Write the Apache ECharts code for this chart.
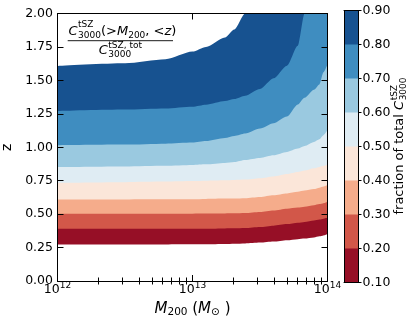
<!DOCTYPE html>
<html><head><meta charset="utf-8">
<script src="https://cdn.jsdelivr.net/npm/echarts@6/dist/echarts.min.js"></script>
<style>html,body{margin:0;padding:0;background:#fff}#c{width:416px;height:322px}</style>
</head><body><div id="c"></div>
<script>
// ---------------- data ----------------
const logMass = [12.0, 12.5, 12.8, 13.0, 13.1, 13.24, 13.31, 13.39, 13.5, 13.6, 13.7, 13.78, 13.83, 13.9, 13.94, 13.97, 14.0];
const contourLevels = [0.1, 0.2, 0.3, 0.4, 0.5, 0.6, 0.7, 0.8, 0.9];
const zAt010 = [0.272, 0.273, 0.273, 0.274, 0.275, 0.277, 0.279, 0.281, 0.287, 0.295, 0.305, 0.313, 0.318, 0.326, 0.334, 0.341, 0.349];
const zAt020 = [0.390, 0.390, 0.390, 0.390, 0.391, 0.393, 0.394, 0.396, 0.404, 0.414, 0.426, 0.436, 0.442, 0.452, 0.459, 0.466, 0.475];
const zAt030 = [0.502, 0.502, 0.502, 0.503, 0.504, 0.505, 0.506, 0.508, 0.516, 0.527, 0.541, 0.550, 0.556, 0.566, 0.575, 0.582, 0.590];
const zAt040 = [0.609, 0.610, 0.611, 0.612, 0.614, 0.616, 0.617, 0.619, 0.628, 0.641, 0.655, 0.667, 0.676, 0.687, 0.697, 0.706, 0.718];
const zAt050 = [0.734, 0.739, 0.743, 0.747, 0.750, 0.753, 0.755, 0.758, 0.768, 0.782, 0.800, 0.815, 0.826, 0.843, 0.853, 0.862, 0.870];
const zAt060 = [0.852, 0.857, 0.862, 0.868, 0.873, 0.883, 0.890, 0.905, 0.920, 0.940, 0.965, 0.990, 1.010, 1.040, 1.060, 1.090, 1.130];
const zAt070 = [1.015, 1.020, 1.027, 1.035, 1.047, 1.070, 1.085, 1.103, 1.140, 1.180, 1.230, 1.320, 1.370, 1.430, 1.470, 1.560, 1.620];
const zAt080 = [1.271, 1.282, 1.290, 1.303, 1.318, 1.345, 1.360, 1.385, 1.435, 1.515, 1.610, 1.758, 2.000, 2.000, 2.000, 2.000, 2.000];
const zAt090 = [1.608, 1.628, 1.658, 1.715, 1.750, 1.820, 1.880, 2.000, 2.000, 2.000, 2.000, 2.000, 2.000, 2.000, 2.000, 2.000, 2.000];
const contourZ = [zAt010, zAt020, zAt030, zAt040, zAt050, zAt060, zAt070, zAt080, zAt090];
const bandColors = ['#960f26', '#d25749', '#f5ac8b', '#fbe6d9', '#dfecf3', '#9ac9e0', '#3f8dc0', '#175290'];
const massRange = [1e12, 1e14];
const zRange = [0, 2];
const zTickStep = 0.25;
const minorMultipliers = [2, 3, 4, 5, 6, 7, 8, 9];
const minorDecades = [12, 13];

// ---------------- helpers ----------------
const FAM = '"DejaVu Sans", sans-serif';
const fnt = (size, italic) => (italic ? 'italic ' : '') + size + 'px ' + FAM;
const mctx = document.createElement('canvas').getContext('2d');
const tw = (t, f) => { mctx.font = f; return mctx.measureText(t).width; };
const black = '#000';
const axLine = { show: true, onZero: false, lineStyle: { color: black, width: 1 } };

const minorTickExp = [];
minorDecades.forEach(d => minorMultipliers.forEach(k => minorTickExp.push(d + Math.log10(k))));

const chart = echarts.init(document.getElementById('c'), null, { renderer: 'canvas' });

// main contour series: each level's boundary filled downward, top level first
const contourSeries = [];
for (let i = contourLevels.length - 1; i >= 0; i--) {
  const fill = i === 0 ? '#ffffff' : bandColors[i - 1];
  contourSeries.push({
    type: 'line', name: 'level ' + contourLevels[i], xAxisIndex: 0, yAxisIndex: 0,
    data: logMass.map((e, j) => [Math.pow(10, e), contourZ[i][j]]),
    symbol: 'none', showSymbol: false, smooth: 0.25, smoothMonotone: 'x',
    lineStyle: { width: 0, opacity: 0 },
    areaStyle: { color: fill, opacity: 1, origin: 'start' },
    silent: true, animation: false, z: 2
  });
}
// colorbar bars
const cbSeries = [];
for (let i = bandColors.length - 1; i >= 0; i--) {
  cbSeries.push({
    type: 'bar', xAxisIndex: 4, yAxisIndex: 2, data: [contourLevels[i + 1]],
    barWidth: '100%', barGap: '-100%', itemStyle: { color: bandColors[i] },
    silent: true, animation: false, z: 2
  });
}

const xRich = {
  b: { fontSize: 12.5, fontFamily: FAM, color: black, lineHeight: 18 },
  s: { fontSize: 9, fontFamily: FAM, color: black, lineHeight: 9, verticalAlign: 'top' }
};
const xNameRich = {
  i: { fontSize: 15, fontStyle: 'italic', fontFamily: FAM, color: black, lineHeight: 18 },
  n: { fontSize: 15, fontFamily: FAM, color: black, lineHeight: 18 },
  s: { fontSize: 10.5, fontFamily: FAM, color: black, lineHeight: 7, verticalAlign: 'bottom' }
};

// ---------- annotation (fraction) ----------
const mainF = fnt(13), mainI = fnt(13, true), subF = fnt(9);
const numX = 68.5, numY = 31.5, denY = 50.5;
const wC = tw('C', mainI);
const numRich = {
  n: { font: mainF, fill: black, lineHeight: 18 },
  i: { font: mainI, fill: black, lineHeight: 18 },
  s: { font: subF, fill: black, lineHeight: 10, verticalAlign: 'bottom' }
};
const numRest = '{s|3000}{n|(>}{i|M}{s|200}{n|, <}{i|z}{n|)}';
const fracLeft = 67.7, fracRight = 173;
const denW = wC + 0.5 + tw('tSZ, tot', subF);
const denX = (fracLeft + fracRight) / 2 - denW / 2;

// colorbar label
const cbLabelF = fnt(13), cbLabelI = fnt(13, true);
const w1 = tw('fraction of total ', cbLabelF);
const wCb = tw('C', cbLabelI);
const cbTotal = w1 + wCb + 0.5 + tw('3000', subF);
const cbCenterY = 146;

const graphic = [
  { type: 'text', x: numX, y: numY, z: 100, style: { text: 'C', font: mainI, fill: black, verticalAlign: 'middle', align: 'left' } },
  { type: 'text', x: numX + wC + 0.5, y: numY - 6.5, z: 100, style: { text: 'tSZ', font: subF, fill: black, verticalAlign: 'middle', align: 'left' } },
  { type: 'text', x: numX + wC + 0.5, y: numY, z: 100, style: { text: numRest, rich: numRich, verticalAlign: 'middle', align: 'left' } },
  { type: 'line', z: 100, shape: { x1: fracLeft, y1: 40.7, x2: fracRight, y2: 40.7 }, style: { stroke: black, lineWidth: 0.9 } },
  { type: 'text', x: denX, y: denY, z: 100, style: { text: 'C', font: mainI, fill: black, verticalAlign: 'middle', align: 'left' } },
  { type: 'text', x: denX + wC + 0.5, y: denY - 5, z: 100, style: { text: 'tSZ, tot', font: subF, fill: black, verticalAlign: 'middle', align: 'left' } },
  { type: 'text', x: denX + wC + 0.5, y: denY + 4, z: 100, style: { text: '3000', font: subF, fill: black, verticalAlign: 'middle', align: 'left' } },
  { type: 'group', x: 400, y: cbCenterY + cbTotal / 2, rotation: Math.PI / 2, z: 100, children: [
    { type: 'text', x: 0, y: 0, style: { text: 'fraction of total ', font: cbLabelF, fill: black, verticalAlign: 'middle', align: 'left' } },
    { type: 'text', x: w1, y: 0, style: { text: 'C', font: cbLabelI, fill: black, verticalAlign: 'middle', align: 'left' } },
    { type: 'text', x: w1 + wCb + 0.5, y: -5.5, style: { text: 'tSZ', font: subF, fill: black, verticalAlign: 'middle', align: 'left' } },
    { type: 'text', x: w1 + wCb + 0.5, y: 4, style: { text: '3000', font: subF, fill: black, verticalAlign: 'middle', align: 'left' } }
  ] }
];

const option = {
  animation: false,
  backgroundColor: '#ffffff',
  grid: [
    { left: 57.5, top: 13.5, width: 270, height: 267.5, containLabel: false, outerBoundsMode: 'none' },
    { left: 344, top: 10.5, width: 14, height: 272, containLabel: false, outerBoundsMode: 'none' }
  ],
  xAxis: [
    { type: 'log', logBase: 10, gridIndex: 0, position: 'bottom', min: massRange[0], max: massRange[1], z: 10,
      axisLine: axLine, axisTick: { show: true, inside: true, length: 6, lineStyle: { color: black, width: 1 } },
      splitLine: { show: false },
      axisLabel: { margin: 0, rich: xRich, formatter: v => '{b|10}{s|' + Math.round(Math.log10(v)) + '}' },
      name: '{i|M}{s|200}{n| (}{i|M}{s|\u2299}{n| )}', nameLocation: 'middle', nameGap: 18,
      nameTextStyle: { rich: xNameRich, fontSize: 15, fontFamily: FAM, color: black } },
    { type: 'log', logBase: 10, gridIndex: 0, position: 'top', min: massRange[0], max: massRange[1], z: 10,
      axisLine: axLine, axisTick: { show: true, inside: true, length: 6, lineStyle: { color: black, width: 1 } },
      splitLine: { show: false }, axisLabel: { show: false } },
    { type: 'value', gridIndex: 0, position: 'bottom', min: 12, max: 14, z: 10,
      axisLine: { show: false }, splitLine: { show: false }, axisLabel: { show: false },
      axisTick: { show: true, inside: true, length: 3.5, customValues: minorTickExp, lineStyle: { color: black, width: 1 } } },
    { type: 'value', gridIndex: 0, position: 'top', min: 12, max: 14, z: 10,
      axisLine: { show: false }, splitLine: { show: false }, axisLabel: { show: false },
      axisTick: { show: true, inside: true, length: 3.5, customValues: minorTickExp, lineStyle: { color: black, width: 1 } } },
    { type: 'category', gridIndex: 1, position: 'bottom', data: ['cb'], z: 10,
      axisLine: axLine, axisTick: { show: false }, axisLabel: { show: false }, splitLine: { show: false } },
    { type: 'category', gridIndex: 1, position: 'top', data: ['cb'], z: 10,
      axisLine: axLine, axisTick: { show: false }, axisLabel: { show: false }, splitLine: { show: false } }
  ],
  yAxis: [
    { type: 'value', gridIndex: 0, position: 'left', min: zRange[0], max: zRange[1], interval: zTickStep, z: 10,
      axisLine: axLine, axisTick: { show: true, inside: true, length: 6, lineStyle: { color: black, width: 1 } },
      splitLine: { show: false },
      axisLabel: { margin: 4.5, fontSize: 12.5, fontFamily: FAM, color: black, formatter: v => v.toFixed(2) },
      name: 'z', nameLocation: 'middle', nameGap: 42,
      nameTextStyle: { fontSize: 14, fontFamily: FAM, color: black } },
    { type: 'value', gridIndex: 0, position: 'right', min: zRange[0], max: zRange[1], interval: zTickStep, z: 10,
      axisLine: axLine, axisTick: { show: true, inside: true, length: 6, lineStyle: { color: black, width: 1 } },
      splitLine: { show: false }, axisLabel: { show: false } },
    { type: 'value', gridIndex: 1, position: 'right', min: contourLevels[0], max: contourLevels[contourLevels.length - 1], interval: 0.1, z: 10,
      axisLine: axLine, axisTick: { show: true, inside: false, length: 3.5, lineStyle: { color: black, width: 1 } },
      splitLine: { show: false },
      axisLabel: { margin: 4.5, fontSize: 12.5, fontFamily: FAM, color: black, formatter: v => v.toFixed(2) } },
    { type: 'value', gridIndex: 1, position: 'left', min: contourLevels[0], max: contourLevels[contourLevels.length - 1], interval: 0.1, z: 10,
      axisLine: axLine, axisTick: { show: false }, splitLine: { show: false }, axisLabel: { show: false } }
  ],
  series: contourSeries.concat(cbSeries),
  graphic: graphic
};
chart.setOption(option);
</script>
</body></html>
